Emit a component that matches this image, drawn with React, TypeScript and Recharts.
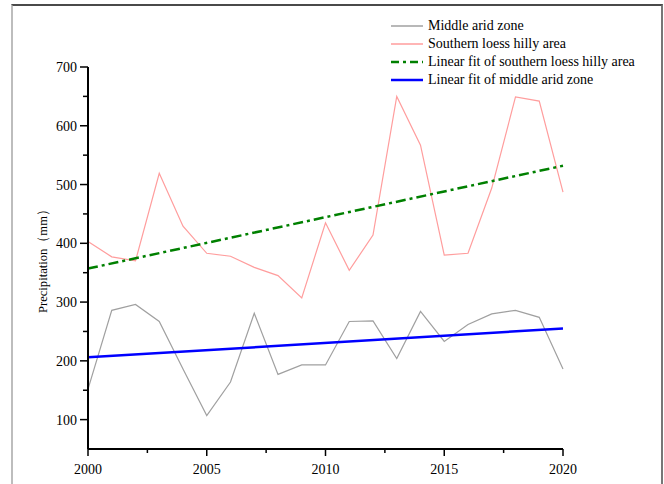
import { Label, Legend, Line, LineChart, XAxis, YAxis } from "recharts";

const years = [
  2000, 2001, 2002, 2003, 2004, 2005, 2006, 2007, 2008, 2009, 2010,
  2011, 2012, 2013, 2014, 2015, 2016, 2017, 2018, 2019, 2020,
];
const middleArid = [
  152, 286, 296, 267, 186, 107, 164, 281, 177, 193, 193,
  267, 268, 204, 284, 233, 262, 280, 286, 274, 186,
];
const southernLoess = [
  403, 377, 370, 519, 429, 383, 378, 359, 345, 307, 435,
  354, 414, 650, 567, 380, 383, 494, 649, 642, 487,
];
// fitted lines, read at both ends of the period
const fitYears = [2000, 2020];
const loessFit = [357, 532];
const aridFit = [206, 255];

const xTicks = [2000, 2002.5, 2005, 2007.5, 2010, 2012.5, 2015, 2017.5, 2020];
const yTicks = [100, 150, 200, 250, 300, 350, 400, 450, 500, 550, 600, 650, 700];

const FONT = "'Liberation Serif', 'Times New Roman', serif";

const data = years.map((year, i) => ({
  year,
  arid: middleArid[i],
  loess: southernLoess[i],
}));
const loessFitData = fitYears.map((year, i) => ({ year, loessFit: loessFit[i] }));
const aridFitData = fitYears.map((year, i) => ({ year, aridFit: aridFit[i] }));

const LEGEND = [
  { label: "Middle arid zone", color: "#a0a0a0", width: 1.5, dash: undefined },
  { label: "Southern loess hilly area", color: "#ff9d9d", width: 1.5, dash: undefined },
  { label: "Linear fit of southern loess hilly area", color: "#008000", width: 2.5, dash: "8 4 3 4" },
  { label: "Linear fit of middle arid zone", color: "#0000ff", width: 2.5, dash: undefined },
];

function XTick({ x, y, payload }: any) {
  const major = payload.value % 5 === 0;
  return (
    <g>
      <line x1={x} x2={x} y1={y} y2={y + (major ? 7 : 4)} stroke="#000" strokeWidth={1.5} />
      {major && (
        <text x={x} y={y + 25} textAnchor="middle" fontSize={14} fontFamily={FONT} fill="#000">
          {payload.value}
        </text>
      )}
    </g>
  );
}

function YTick({ x, y, payload }: any) {
  const major = payload.value % 100 === 0;
  return (
    <g>
      <line x1={x - (major ? 8 : 5)} x2={x} y1={y} y2={y} stroke="#000" strokeWidth={1.5} />
      {major && (
        <text x={x - 11} y={y + 5} textAnchor="end" fontSize={14} fontFamily={FONT} fill="#000">
          {payload.value}
        </text>
      )}
    </g>
  );
}

function LegendBox() {
  return (
    <div style={{ fontFamily: FONT, fontSize: 14, color: "#000" }}>
      {LEGEND.map((item) => (
        <div key={item.label} style={{ display: "flex", alignItems: "center", height: 18 }}>
          <svg width={36} height={18} style={{ display: "block" }}>
            <line
              x1={3}
              x2={35}
              y1={9}
              y2={9}
              stroke={item.color}
              strokeWidth={item.width}
              strokeDasharray={item.dash}
            />
          </svg>
          <span style={{ marginLeft: 4, whiteSpace: "nowrap" }}>{item.label}</span>
        </div>
      ))}
    </div>
  );
}

export default function App() {
  return (
    <div style={{ position: "fixed", left: 0, top: 0, width: 664, height: 484, background: "#fff" }}>
      <div
        style={{
          position: "absolute",
          left: 11,
          top: 4,
          width: 648,
          height: 490,
          borderTop: "2px solid #4a4a4a",
          borderLeft: "2px solid #bdbdbd",
          borderRight: "2px solid #777",
        }}
      />
      <LineChart
        width={664}
        height={484}
        margin={{ top: 67, right: 101, bottom: 0, left: 0 }}
        style={{ position: "absolute", left: 0, top: 0 }}
      >
        <XAxis
          dataKey="year"
          type="number"
          domain={[2000, 2020]}
          ticks={xTicks}
          interval={0}
          height={35}
          tickSize={0}
          tickMargin={0}
          tickLine={false}
          tick={<XTick />}
          axisLine={{ stroke: "#000", strokeWidth: 2 }}
          allowDuplicatedCategory={false}
        />
        <YAxis
          type="number"
          domain={[50, 700]}
          ticks={yTicks}
          interval={0}
          width={88}
          tickSize={0}
          tickMargin={0}
          tickLine={false}
          tick={<YTick />}
          axisLine={{ stroke: "#000", strokeWidth: 2 }}
        >
          <Label
            content={() => (
              <text
                x={47}
                y={258}
                transform="rotate(-90 47 258)"
                textAnchor="middle"
                fontSize={13.5}
                fontFamily={FONT}
                fill="#000"
                textLength={110}
                lengthAdjust="spacingAndGlyphs"
              >
                Precipitation（mm）
              </text>
            )}
          />
        </YAxis>
        <Legend
          layout="vertical"
          align="center"
          verticalAlign="middle"
          content={() => <LegendBox />}
          wrapperStyle={{ left: 388, top: 17, width: 276 }}
        />
        <Line
          data={data}
          dataKey="arid"
          stroke="#a0a0a0"
          strokeWidth={1.2}
          dot={false}
          activeDot={false}
          isAnimationActive={false}
        />
        <Line
          data={data}
          dataKey="loess"
          stroke="#ff9d9d"
          strokeWidth={1.2}
          dot={false}
          activeDot={false}
          isAnimationActive={false}
        />
        <Line
          data={loessFitData}
          dataKey="loessFit"
          stroke="#008000"
          strokeWidth={2.5}
          strokeDasharray="10 4 3 4"
          dot={false}
          activeDot={false}
          isAnimationActive={false}
        />
        <Line
          data={aridFitData}
          dataKey="aridFit"
          stroke="#0000ff"
          strokeWidth={2.5}
          dot={false}
          activeDot={false}
          isAnimationActive={false}
        />
      </LineChart>
    </div>
  );
}
